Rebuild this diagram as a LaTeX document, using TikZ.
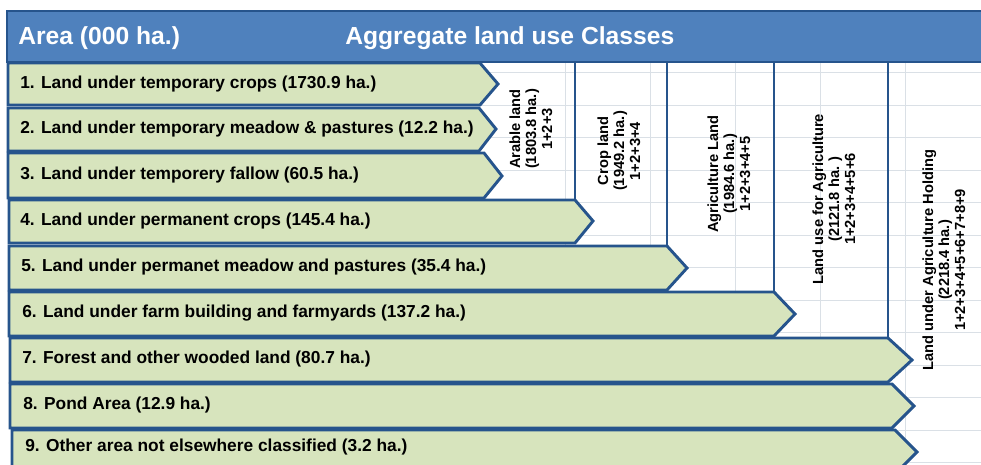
\documentclass[tikz,border=0pt]{standalone}
\usepackage{fontspec}
\setmainfont{Liberation Sans}
\usetikzlibrary{positioning}
\definecolor{edgeblue}{RGB}{38,84,140}
\definecolor{headblue}{RGB}{79,129,189}
\definecolor{rowgreen}{RGB}{215,228,189}
\definecolor{gridgray}{RGB}{218,224,230}

\begin{document}
\begin{tikzpicture}[x=0.75pt, y=-0.75pt,
    rowarrow/.style={draw=edgeblue, fill=rowgreen, line width=2.2pt, line join=miter},
    rowtext/.style={anchor=west, inner sep=0pt, font=\fontsize{13}{15}\selectfont\bfseries},
    headtext/.style={anchor=west, inner sep=0pt, text=white, font=\fontsize{18.5}{22}\selectfont\bfseries},
    classlabel/.style={rotate=90, align=center, inner sep=0pt, font=\fontsize{11}{12}\selectfont\bfseries},
    divider/.style={draw=edgeblue, line width=2.2pt},
    gridline/.style={draw=gridgray, line width=0.6pt}
    ]
        \useasboundingbox (0,0) rectangle (981,464);
        \clip (0,0) rectangle (981,464);

        %Grid
        \draw[gridline]
            (480,72) -- (981,72)   (480,105) -- (981,105) (480,137) -- (981,137)
            (480,170) -- (981,170) (480,202) -- (981,202) (480,235) -- (981,235)
            (480,267) -- (981,267) (480,300) -- (981,300) (480,332) -- (981,332)
            (480,365) -- (981,365) (480,397) -- (981,397) (480,430) -- (981,430)
            (480,462) -- (981,462)
            (565,62) -- (565,464) (650,62) -- (650,464) (735,62) -- (735,464)
            (820,62) -- (820,464) (905,62) -- (905,464);

        %Header
        \draw[draw=edgeblue, fill=headblue, line width=1pt] (7,11) rectangle (990,62);
        \node[headtext] (area)   at (18,38)  {Area (000 ha.)};
        \node[headtext] (aggr)   at (345,38) {Aggregate land use Classes};

        %Rows
        \draw[rowarrow] (8,63) -- (480,63) -- (498,84) -- (480,105) -- (8,105) -- cycle;
        \node[rowtext] (r1) at (20,84)  {1. Land under temporary crops (1730.9 ha.)};
        \draw[rowarrow] (8,108) -- (479,108) -- (496,129) -- (479,151) -- (8,151) -- cycle;
        \node[rowtext] (r2) at (20,129) {2. Land under temporary meadow \& pastures (12.2 ha.)};
        \draw[rowarrow] (8,153) -- (484,153) -- (502,176) -- (484,198) -- (8,198) -- cycle;
        \node[rowtext] (r3) at (20,175) {3. Land under temporery fallow (60.5 ha.)};
        \draw[rowarrow] (9,200) -- (575,200) -- (593,221) -- (575,243) -- (9,243) -- cycle;
        \node[rowtext] (r4) at (20,221) {4. Land under permanent crops (145.4 ha.)};
        \draw[rowarrow] (9,246) -- (667,246) -- (687,268) -- (667,290) -- (9,290) -- cycle;
        \node[rowtext] (r5) at (21,267) {5. Land under permanet meadow and pastures (35.4 ha.)};
        \draw[rowarrow] (9,292) -- (774,292) -- (795,314) -- (774,336) -- (9,336) -- cycle;
        \node[rowtext] (r6) at (22,313) {6. Land under farm building and farmyards (137.2 ha.)};
        \draw[rowarrow] (10,338) -- (888,338) -- (912,360) -- (888,382) -- (10,382) -- cycle;
        \node[rowtext] (r7) at (22,359) {7. Forest and other wooded land (80.7 ha.)};
        \draw[rowarrow] (10,384) -- (892,384) -- (914,406) -- (892,428) -- (10,428) -- cycle;
        \node[rowtext] (r8) at (23,405) {8. Pond Area (12.9 ha.)};
        \draw[rowarrow] (12,430) -- (895,430) -- (917,452) -- (895,474) -- (12,474) -- cycle;
        \node[rowtext] (r9) at (25,447) {9. Other area not elsewhere classified (3.2 ha.)};

        %Dividers
        \draw[divider] (575,62) -- (575,200);
        \draw[divider] (667,62) -- (667,246);
        \draw[divider] (774,62) -- (774,292);
        \draw[divider] (888,62) -- (888,338);

        %Classes
        \node[classlabel] (arable)  at (531,129) {Arable land\\(1803.8 ha.)\\1+2+3};
        \node[classlabel] (crop)    at (619,151) {Crop land\\(1949.2 ha.)\\1+2+3+4};
        \node[classlabel] (agri)    at (729,174) {Agriculture Land\\(1984.6 ha.)\\1+2+3+4+5};
        \node[classlabel] (landuse) at (834,199) {Land use for Agriculture\\(2121.8 ha. )\\1+2+3+4+5+6};
        \node[classlabel] (holding) at (944,260) {Land under Agriculture Holding\\(2218.4 ha.)\\1+2+3+4+5+6+7+8+9};
\end{tikzpicture}
\end{document}
